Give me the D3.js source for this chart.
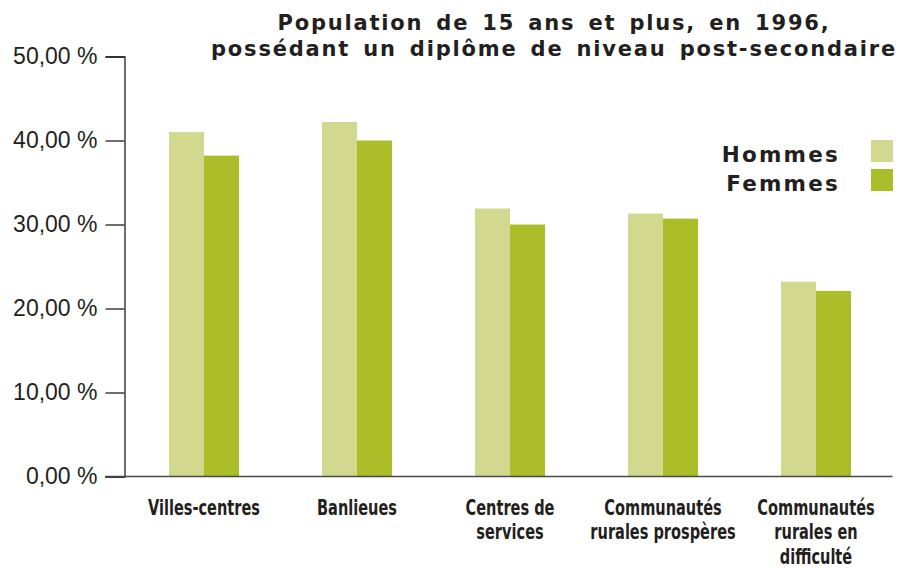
<!DOCTYPE html>
<html>
<head>
<meta charset="utf-8">
<script src="https://cdn.jsdelivr.net/npm/d3@7"></script>
<style>
  body { margin: 0; background: #fff; }
  svg { display: block; }
  text { fill: #231f20; }
</style>
</head>
<body>
<div id="chart"></div>
<script>
// data
const categories = ["Villes-centres", "Banlieues", "Centres de services", "Communautés rurales prospères", "Communautés rurales en difficulté"];
const categoryLines = [["Villes-centres"], ["Banlieues"], ["Centres de", "services"], ["Communautés", "rurales prospères"], ["Communautés", "rurales en", "difficulté"]];
const series = ["Hommes", "Femmes"];
const hommes = [41.0, 42.2, 31.9, 31.3, 23.2];
const femmes = [38.2, 40.0, 30.0, 30.7, 22.1];
const yTicks = [0, 10, 20, 30, 40, 50];
const titleLines = ["Population de 15 ans et plus, en 1996,", "possédant un diplôme de niveau post-secondaire"];

const colors = { Hommes: "#d2d98f", Femmes: "#abbd28" };

const W = 901, H = 569;
const svg = d3.select("#chart").append("svg").attr("width", W).attr("height", H);

const y = d3.scaleLinear().domain([0, 50]).range([476.5, 56.5]);
const x0 = d3.scaleBand().domain(categories).range([127.5, 892.5])
    .paddingInner(0.5425).paddingOuter(0.27125);
const x1 = d3.scaleBand().domain(series).range([0, x0.bandwidth()]);

const rows = categories.map((c, i) => ({ cat: c, Hommes: hommes[i], Femmes: femmes[i] }));

// bars
const groups = svg.selectAll(".grp").data(rows).enter().append("g")
    .attr("transform", d => `translate(${x0(d.cat)},0)`);
groups.selectAll("rect").data(d => series.map(s => ({ s, v: d[s] }))).enter().append("rect")
    .attr("x", d => x1(d.s))
    .attr("width", x1.bandwidth())
    .attr("y", d => y(d.v))
    .attr("height", d => y(0) - y(d.v))
    .attr("fill", d => colors[d.s]);

// y axis
const yAxis = svg.append("g").attr("transform", "translate(124.5,0)")
    .call(d3.axisLeft(y).tickValues(yTicks).tickSize(19).tickPadding(8)
        .tickFormat(d => d3.format(".2f")(d).replace(".", ",") + " %"));
yAxis.select(".domain").attr("stroke", "#231f20").attr("stroke-width", 1.3);
yAxis.selectAll(".tick line").attr("stroke", "#231f20").attr("stroke-width", 1.3);
yAxis.selectAll(".tick text")
    .style("font-family", "'Liberation Sans', Arial, sans-serif")
    .style("font-size", "23px")
    .attr("dy", "0.3em")
    .style("fill", "#231f20");

// x axis baseline
svg.append("line")
    .attr("x1", 105).attr("x2", 892.5)
    .attr("y1", y(0)).attr("y2", y(0))
    .attr("stroke", "#4a4a4a").attr("stroke-width", 1.5);

// x labels (condensed look)
const xl = svg.selectAll(".xlab").data(categories).enter().append("text")
    .attr("class", "xlab")
    .attr("transform", d => `translate(${x0(d) + x0.bandwidth() / 2},515) scale(0.77,1)`)
    .attr("text-anchor", "middle")
    .style("font-family", "'DejaVu Sans Condensed', 'DejaVu Sans', sans-serif")
    .style("font-weight", "bold")
    .style("font-size", "21px");
xl.each(function (d, i) {
    d3.select(this).selectAll("tspan").data(categoryLines[i]).enter().append("tspan")
        .attr("x", 0)
        .attr("dy", (t, j) => j === 0 ? 0 : 24.5)
        .text(t => t);
});

// title
svg.selectAll(".title").data(titleLines).enter().append("text")
    .attr("x", 554)
    .attr("y", (d, i) => 30 + i * 25.5)
    .attr("text-anchor", "middle")
    .style("font-family", "'DejaVu Sans', sans-serif")
    .style("font-weight", "bold")
    .style("font-size", "21px")
    .style("letter-spacing", "1.8px")
    .style("word-spacing", "4px")
    .text(d => d);

// legend
const leg = svg.selectAll(".leg").data(series).enter().append("g")
    .attr("transform", (d, i) => `translate(0,${140 + i * 29})`);
leg.append("rect").attr("x", 871).attr("width", 22).attr("height", 22)
    .attr("fill", d => colors[d]);
leg.append("text").attr("x", 840).attr("y", 21.5)
    .attr("text-anchor", "end")
    .style("font-family", "'DejaVu Sans', sans-serif")
    .style("font-weight", "bold")
    .style("font-size", "21.5px")
    .style("letter-spacing", "2.2px")
    .text(d => d);
</script>
</body>
</html>
